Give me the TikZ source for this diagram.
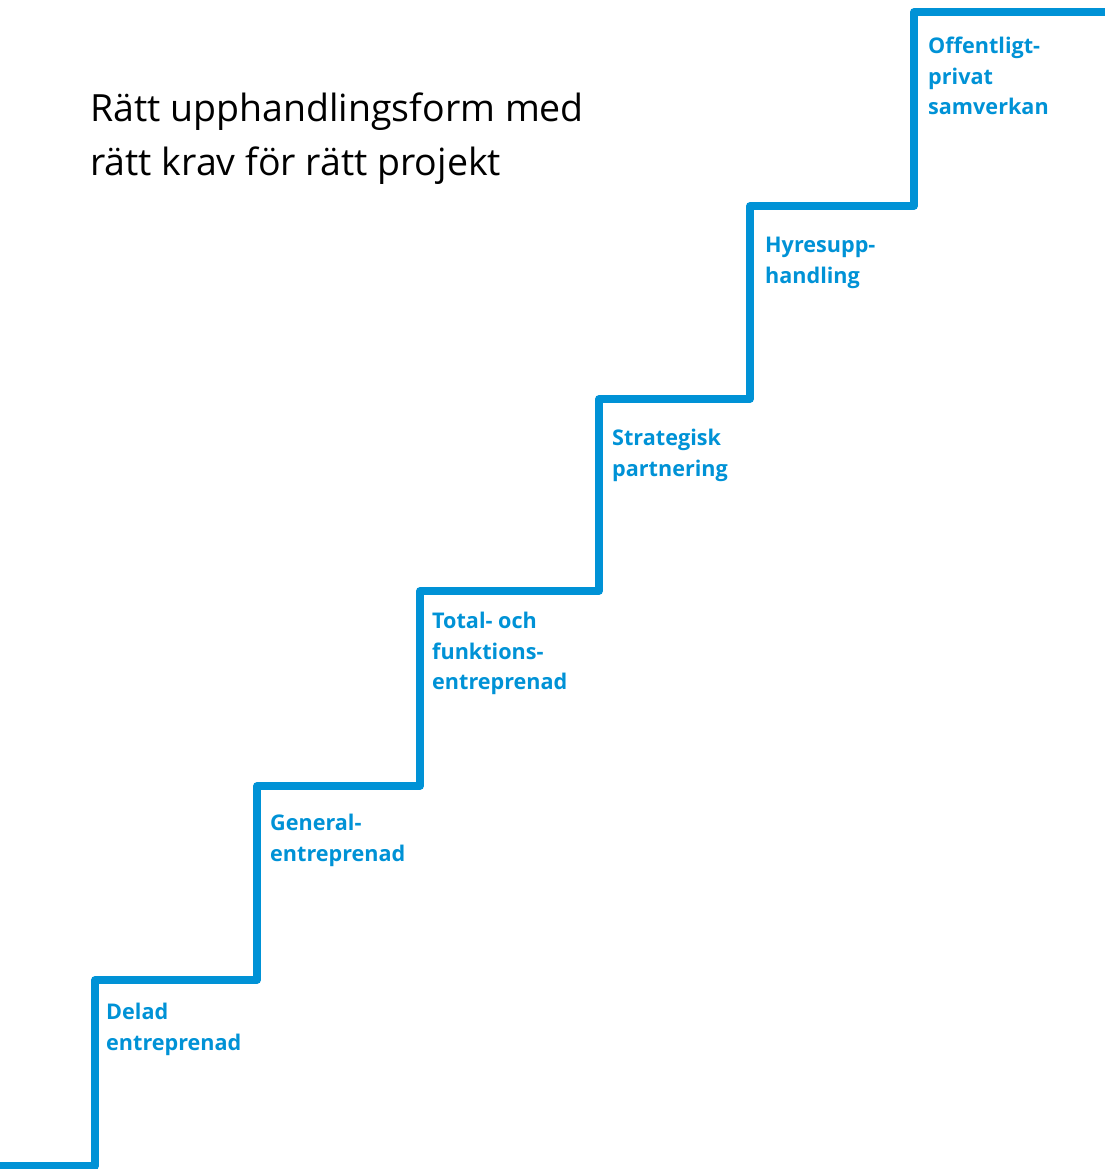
\documentclass[tikz,border=0pt]{standalone}
\usepackage{fontspec}
\setmainfont{Open Sans}
\definecolor{stairblue}{RGB}{0,146,214}
\begin{document}
\begin{tikzpicture}[x=1pt,y=1pt,
  stairline/.style={draw=stairblue,line width=7.5pt,line join=round},
  steplabel/.style={anchor=north west,inner sep=0pt,align=left,text=stairblue,
    font=\fontsize{21.6}{30.5}\selectfont\bfseries},
  titletext/.style={anchor=north west,inner sep=0pt,align=left,text=black,
    font=\fontsize{37.5}{54}\selectfont}]
\useasboundingbox (0,0) rectangle (1104,1169);
% stair corners (y = 1169 - pixel y)
\coordinate (s0) at (-10,3);
\coordinate (s1) at (95,3);
\coordinate (s2) at (95,189);
\coordinate (s3) at (257,189);
\coordinate (s4) at (257,383);
\coordinate (s5) at (420,383);
\coordinate (s6) at (420,578);
\coordinate (s7) at (599,578);
\coordinate (s8) at (599,770);
\coordinate (s9) at (750,770);
\coordinate (s10) at (750,963);
\coordinate (s11) at (914,963);
\coordinate (s12) at (914,1157);
\coordinate (s13) at (1115,1157);
\draw[stairline] (s0) -- (s1) -- (s2) -- (s3) -- (s4) -- (s5) -- (s6) -- (s7) -- (s8) -- (s9) -- (s10) -- (s11) -- (s12) -- (s13);
\node[titletext] (title) at (90,1076) {Rätt upphandlingsform med\\rätt krav för rätt projekt};
\node[steplabel] (l1) at (106,166) {Delad\\entreprenad};
\node[steplabel] (l2) at (270,355) {General-\\entreprenad};
\node[steplabel] (l3) at (432,557) {Total- och\\funktions-\\entreprenad};
\node[steplabel] (l4) at (612,740) {Strategisk\\partnering};
\node[steplabel] (l5) at (765,932) {Hyresupp-\\handling};
\node[steplabel] (l6) at (928,1132) {Offentligt-\\privat\\samverkan};
\end{tikzpicture}
\end{document}
